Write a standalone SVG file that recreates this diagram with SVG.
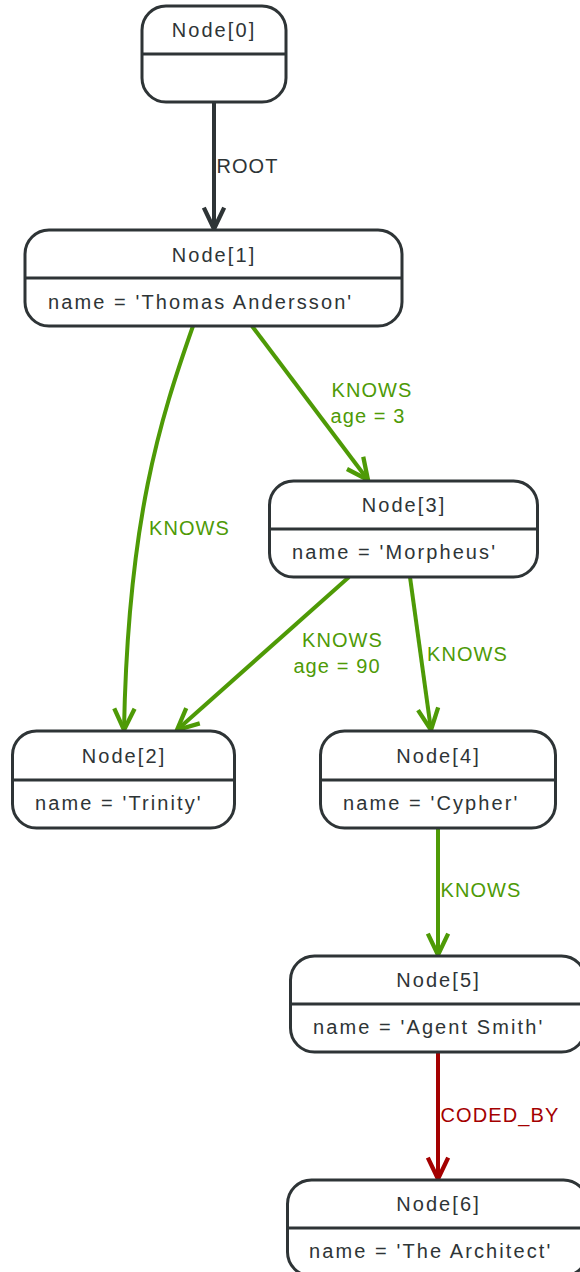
<svg xmlns="http://www.w3.org/2000/svg" width="580" height="1272" viewBox="0 0 580 1272">
<style>
.box{fill:#ffffff;stroke:#2e3436;stroke-width:3}
.div{stroke:#2e3436;stroke-width:3}
.t{font-family:"Liberation Sans",Arial,sans-serif;font-size:20px;fill:#2e3436;letter-spacing:2.1px}
.tm{text-anchor:middle}
.e{fill:none;stroke-width:4}
.lbl{font-family:"Liberation Sans",Arial,sans-serif;font-size:20px;letter-spacing:1.1px;text-anchor:middle}
.dk{stroke:#2e3436}
.gr{stroke:#4e9a06}
.rd{stroke:#a40000}
</style>
<defs>
<marker id="aDk" markerUnits="userSpaceOnUse" markerWidth="30" markerHeight="30" viewBox="-24 -12 28 24" refX="0" refY="0" orient="auto">
<path d="M-20,-9.5 L0,0 L-20,9.5" fill="none" stroke="#2e3436" stroke-width="4"/>
</marker>
<marker id="aGr" markerUnits="userSpaceOnUse" markerWidth="30" markerHeight="30" viewBox="-24 -12 28 24" refX="0" refY="0" orient="auto">
<path d="M-20,-9.5 L0,0 L-20,9.5" fill="none" stroke="#4e9a06" stroke-width="4"/>
</marker>
<marker id="aRd" markerUnits="userSpaceOnUse" markerWidth="30" markerHeight="30" viewBox="-24 -12 28 24" refX="0" refY="0" orient="auto">
<path d="M-20,-9.5 L0,0 L-20,9.5" fill="none" stroke="#a40000" stroke-width="4"/>
</marker>
</defs>
<g id="connectors">
<path class="e dk" d="M214,102 L214,229" marker-end="url(#aDk)"/>
<text class="lbl" x="247.5" y="173" fill="#2e3436">ROOT</text>
<path class="e gr" d="M193,326 C160,420 128,520 124,730" marker-end="url(#aGr)"/>
<text class="lbl" x="189.5" y="535" fill="#4e9a06">KNOWS</text>
<path class="e gr" d="M252,326 L368,480" marker-end="url(#aGr)"/>
<text class="lbl" x="372" y="397" fill="#4e9a06">KNOWS</text>
<text class="lbl" x="368" y="423" fill="#4e9a06">age = 3</text>
<path class="e gr" d="M349,577 L177,730" marker-end="url(#aGr)"/>
<text class="lbl" x="342.5" y="647" fill="#4e9a06">KNOWS</text>
<text class="lbl" x="337" y="673" fill="#4e9a06">age = 90</text>
<path class="e gr" d="M410,577 L431,730" marker-end="url(#aGr)"/>
<text class="lbl" x="467.5" y="661" fill="#4e9a06">KNOWS</text>
<path class="e gr" d="M438,828 L438,955" marker-end="url(#aGr)"/>
<text class="lbl" x="481" y="897" fill="#4e9a06">KNOWS</text>
<path class="e rd" d="M438,1052 L438,1179" marker-end="url(#aRd)"/>
<text class="lbl" x="500" y="1122" fill="#a40000">CODED_BY</text>
</g>
<g id="node0">
<rect class="box" x="142" y="6" width="144" height="96" rx="24" ry="24"/>
<line class="div" x1="142" y1="54" x2="286" y2="54"/>
<text class="t tm" x="214" y="37">Node[0]</text>
</g>
<g id="node1">
<rect class="box" x="25" y="230" width="377" height="96" rx="24" ry="24"/>
<line class="div" x1="25" y1="278" x2="402" y2="278"/>
<text class="t tm" x="214" y="262">Node[1]</text>
<text class="t" x="48" y="309">name = 'Thomas Andersson'</text>
</g>
<g id="node3">
<rect class="box" x="269.5" y="481" width="268" height="96" rx="24" ry="24"/>
<line class="div" x1="269.5" y1="529" x2="537.5" y2="529"/>
<text class="t tm" x="404" y="512">Node[3]</text>
<text class="t" x="292" y="559">name = 'Morpheus'</text>
</g>
<g id="node2">
<rect class="box" x="12.5" y="731" width="222" height="97" rx="24" ry="24"/>
<line class="div" x1="12.5" y1="780" x2="234.5" y2="780"/>
<text class="t tm" x="124" y="763">Node[2]</text>
<text class="t" x="35" y="810">name = 'Trinity'</text>
</g>
<g id="node4">
<rect class="box" x="320.5" y="731" width="235" height="97" rx="24" ry="24"/>
<line class="div" x1="320.5" y1="780" x2="555.5" y2="780"/>
<text class="t tm" x="438.5" y="763">Node[4]</text>
<text class="t" x="343" y="810">name = 'Cypher'</text>
</g>
<g id="node5">
<rect class="box" x="290.5" y="956" width="295" height="96" rx="24" ry="24"/>
<line class="div" x1="290.5" y1="1004" x2="585.5" y2="1004"/>
<text class="t tm" x="438.5" y="987">Node[5]</text>
<text class="t" x="313" y="1034">name = 'Agent Smith'</text>
</g>
<g id="node6">
<rect class="box" x="287.5" y="1180" width="300" height="96" rx="24" ry="24"/>
<line class="div" x1="287.5" y1="1228" x2="587.5" y2="1228"/>
<text class="t tm" x="438.5" y="1211">Node[6]</text>
<text class="t" x="309" y="1258">name = 'The Architect'</text>
</g>
</svg>
